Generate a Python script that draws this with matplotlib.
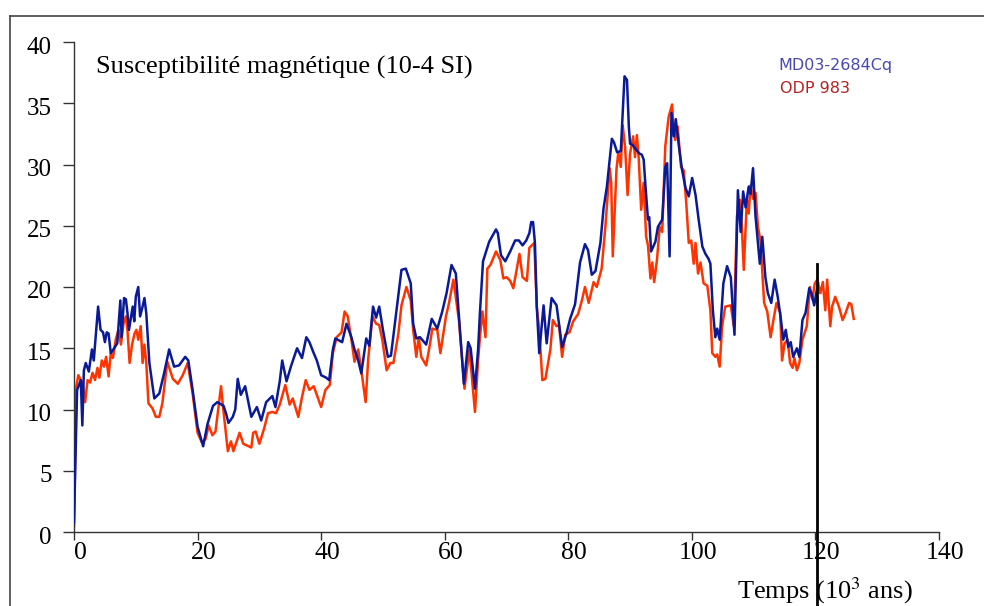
import numpy as np
import matplotlib
matplotlib.use('Agg')
import matplotlib.pyplot as plt
import matplotlib.transforms as mtransforms
from matplotlib.lines import Line2D

#------------------------------------------------------------------------------
# DATA
#------------------------------------------------------------------------------
# MD03-2684Cq
t_md = [0.0, 0.5, 1.1, 1.35, 1.6, 1.9, 2.4, 2.9, 3.2, 3.9, 4.3, 4.7, 5.0, 5.3,
        5.6, 5.95, 6.5, 7.0, 7.5, 7.7, 8.1, 8.4, 8.65, 8.9, 9.5, 9.75, 10.0,
        10.4, 10.7, 11.1, 11.4, 11.7, 11.9, 12.2, 13.0, 13.8, 14.6, 15.4, 16.2,
        17.0, 18.0, 18.5, 19.2, 20.0, 20.9, 21.6, 22.5, 23.2, 24.2, 24.6, 25.0,
        25.7, 26.1, 26.5, 27.0, 27.7, 28.7, 29.6, 30.3, 31.1, 32.1, 32.6, 33.3,
        33.7, 34.4, 35.1, 36.1, 36.9, 37.6, 38.1, 38.8, 39.3, 40.0, 40.8, 41.3,
        41.9, 42.3, 43.4, 44.1, 44.9, 45.4, 46.0, 46.5, 47.3, 47.8, 48.4, 48.9,
        49.4, 50.0, 50.8, 51.3, 52.2, 53.0, 53.7, 54.5, 54.9, 55.4, 56.0, 57.0,
        57.9, 58.8, 59.6, 60.3, 61.1, 61.8, 62.3, 63.1, 63.8, 64.2, 64.9, 65.4,
        65.7, 66.2, 67.2, 68.3, 68.6, 69.1, 69.8, 70.6, 71.4, 72.0, 72.6, 73.2,
        73.7, 74.0, 74.3, 74.6, 74.9, 75.3, 76.0, 76.5, 77.3, 78.1, 79.0, 79.7,
        80.3, 81.1, 81.9, 82.7, 83.2, 83.8, 84.4, 85.2, 85.7, 86.25, 87.05,
        87.4, 87.9, 88.5, 89.1, 89.5, 89.8, 90.0, 90.4, 90.85, 91.5, 91.9, 92.2,
        92.5, 92.9, 93.1, 93.4, 94.1, 94.5, 95.2, 95.7, 96.0, 96.4, 96.7, 97.1,
        97.4, 97.9, 98.4, 98.96, 99.5, 100.05, 100.6, 101.1, 101.7, 102.2,
        102.7, 103.0, 103.4, 103.8, 104.1, 104.5, 105.1, 105.7, 106.3, 106.9,
        107.45, 107.9, 108.3, 108.7, 109.2, 109.5, 109.9, 110.3, 111.0, 111.4,
        111.9, 112.3, 112.85, 113.4, 113.9, 114.4, 114.8, 115.2, 115.6, 116.0,
        116.4, 117.0, 117.4, 117.9, 118.4, 119.0, 119.4, 119.8, 120.1, 120.4]
v_md = [0.8, 11.6, 12.4, 8.7, 13.2, 13.8, 13.1, 14.9, 14.0, 18.4, 16.5, 16.3,
        15.5, 16.3, 16.2, 14.6, 15.0, 15.4, 18.9, 15.9, 19.1, 19.0, 17.9, 16.5,
        18.4, 17.2, 19.2, 20.0, 17.6, 18.4, 19.1, 17.85, 16.2, 13.8, 10.9, 11.3,
        13.0, 14.9, 13.5, 13.6, 14.3, 14.0, 11.6, 8.6, 7.0, 8.8, 10.3, 10.6,
        10.3, 9.7, 8.9, 9.4, 10.0, 12.5, 11.2, 11.9, 9.4, 10.2, 9.1, 10.6, 11.1,
        10.2, 12.3, 14.0, 12.3, 13.5, 15.0, 14.2, 15.9, 15.5, 14.6, 14.0, 12.8,
        12.6, 12.4, 14.9, 15.8, 15.5, 17.0, 15.9, 14.9, 14.0, 12.95, 15.8, 15.2,
        18.4, 17.5, 18.4, 16.5, 14.3, 14.4, 18.1, 21.4, 21.5, 20.3, 17.0, 15.8,
        15.9, 15.3, 17.4, 16.6, 18.0, 19.5, 21.8, 21.1, 17.6, 12.1, 15.5, 15.0,
        11.7, 14.9, 17.9, 22.1, 23.7, 24.7, 24.4, 22.6, 22.1, 22.9, 23.8, 23.8,
        23.4, 23.8, 24.4, 25.3, 25.3, 23.6, 18.4, 14.6, 18.5, 15.4, 19.1, 18.5,
        15.1, 16.2, 17.4, 18.6, 22.0, 23.5, 23.0, 21.0, 21.3, 23.6, 26.4, 28.2,
        32.1, 31.8, 31.0, 31.1, 37.2, 36.9, 33.1, 31.7, 31.6, 31.3, 30.9, 30.8,
        30.4, 28.2, 25.5, 25.7, 22.9, 23.7, 24.9, 25.5, 29.8, 30.1, 22.5, 34.2,
        32.3, 33.7, 31.5, 29.6, 28.1, 27.4, 28.9, 27.5, 25.5, 23.3, 22.7, 22.3,
        21.9, 18.1, 15.9, 16.6, 15.7, 20.3, 21.7, 20.8, 16.1, 27.9, 24.5, 27.8,
        26.5, 28.2, 27.6, 29.7, 25.8, 21.9, 24.1, 20.8, 19.5, 18.7, 20.6, 19.2,
        17.4, 15.7, 16.5, 15.1, 15.5, 14.3, 15.0, 14.3, 17.3, 17.9, 19.9, 19.4,
        18.5, 19.4, 20.3]

# ODP 983
t_odp = [0.0, 0.38, 0.7, 1.1, 1.46, 1.8, 2.2, 2.6, 3.0, 3.4, 3.8, 4.1, 4.5,
         4.85, 5.2, 5.6, 5.95, 6.3, 6.75, 7.2, 7.6, 8.0, 8.4, 8.65, 9.0, 9.4,
         9.8, 10.1, 10.4, 10.8, 11.1, 11.4, 11.7, 12.05, 12.7, 13.25, 13.8,
         14.3, 15.1, 16.0, 16.8, 17.6, 18.4, 19.2, 20.0, 20.7, 21.3, 21.8, 22.4,
         22.9, 23.8, 24.1, 24.9, 25.4, 25.8, 26.8, 27.4, 28.7, 29.0, 29.4, 30.0,
         30.8, 31.4, 32.1, 32.7, 33.3, 34.2, 34.9, 35.4, 36.3, 36.9, 37.5, 38.1,
         38.8, 40.0, 40.7, 41.4, 41.9, 42.5, 43.3, 43.8, 44.3, 44.9, 45.4, 46.0,
         46.5, 47.2, 47.6, 48.3, 48.9, 49.4, 49.9, 50.6, 51.2, 51.7, 52.5, 53.0,
         53.8, 54.5, 54.9, 55.4, 55.8, 56.2, 57.0, 57.6, 58.0, 58.8, 59.3, 60.2,
         60.7, 61.4, 62.3, 63.2, 64.0, 64.9, 65.4, 65.7, 66.1, 66.6, 66.9, 67.4,
         68.3, 69.0, 69.5, 70.0, 70.6, 71.1, 71.5, 72.1, 72.6, 73.3, 73.7, 74.5,
         74.9, 75.3, 75.8, 76.3, 77.1, 77.5, 78.1, 78.5, 79.0, 79.5, 80.2, 80.8,
         81.6, 82.2, 82.7, 83.3, 84.1, 84.6, 85.4, 86.0, 86.7, 86.95, 87.2, 87.8,
         88.1, 88.5, 88.8, 89.2, 89.6, 90.0, 90.5, 90.8, 91.1, 91.4, 91.8, 92.2,
         92.6, 92.9, 93.3, 93.6, 93.9, 94.35, 94.8, 95.2, 95.7, 96.25, 96.8,
         97.0, 97.3, 97.7, 98.25, 98.7, 99.1, 99.5, 99.9, 100.3, 100.6, 101.0,
         101.4, 101.9, 102.5, 103.0, 103.3, 103.8, 104.1, 104.5, 104.9, 105.4,
         106.3, 106.8, 107.3, 107.8, 108.1, 108.4, 108.9, 109.2, 109.5, 109.9,
         110.3, 110.7, 111.1, 111.7, 112.2, 112.75, 113.2, 113.7, 114.3, 114.6,
         115.0, 115.5, 115.9, 116.3, 116.6, 117.0, 117.4, 117.9, 118.6, 119.1,
         119.5, 119.9, 120.3, 120.8, 121.2, 121.6, 121.9, 122.4, 122.7, 123.2,
         123.8, 124.4, 124.9, 125.45, 125.8, 126.2]
v_odp = [0.5, 11.9, 12.8, 12.4, 11.9, 10.6, 12.4, 12.2, 13.0, 12.4, 13.4, 12.6,
         14.0, 13.5, 14.3, 12.7, 14.6, 14.2, 15.7, 16.5, 15.3, 17.0, 17.6, 16.5,
         13.8, 15.3, 16.2, 16.5, 15.7, 16.8, 13.8, 15.3, 13.8, 10.5, 10.1, 9.4,
         9.4, 10.5, 13.9, 12.5, 12.1, 12.8, 13.8, 11.3, 8.1, 7.3, 7.6, 8.7, 7.9,
         8.2, 11.9, 10.3, 6.6, 7.4, 6.6, 8.1, 7.2, 6.9, 8.1, 8.2, 7.2, 8.5, 9.7,
         9.8, 9.7, 10.4, 12.0, 10.4, 10.9, 9.4, 11.0, 12.4, 11.6, 11.9, 10.2,
         11.6, 12.0, 14.6, 15.9, 16.3, 18.0, 17.6, 15.7, 13.9, 14.9, 13.2, 10.6,
         14.0, 17.6, 17.0, 16.9, 15.7, 13.2, 13.8, 13.8, 16.2, 18.5, 20.0, 18.9,
         16.5, 14.3, 15.9, 14.3, 13.6, 15.3, 16.6, 16.5, 14.6, 17.6, 18.7, 20.6,
         17.3, 11.7, 14.9, 9.8, 14.0, 15.9, 18.0, 15.9, 21.5, 21.8, 22.9, 22.2,
         20.7, 20.8, 20.5, 19.9, 21.0, 22.7, 20.8, 20.5, 23.2, 23.6, 18.4, 16.5,
         12.4, 12.5, 14.9, 17.3, 16.8, 16.9, 14.3, 16.1, 16.3, 17.2, 17.8, 18.9,
         20.0, 18.7, 20.4, 20.0, 21.5, 24.9, 29.7, 28.5, 22.5, 29.6, 31.0, 29.8,
         33.2, 31.4, 27.5, 30.9, 32.3, 30.6, 32.4, 30.5, 26.3, 28.5, 24.1, 23.4,
         20.7, 22.0, 20.4, 22.2, 24.9, 24.5, 31.5, 33.9, 34.9, 33.3, 32.0, 33.1,
         29.8, 29.5, 26.8, 23.6, 23.8, 21.9, 23.6, 21.1, 22.0, 20.3, 20.1, 18.1,
         14.6, 14.3, 14.5, 13.5, 16.8, 18.4, 18.5, 16.8, 25.8, 27.1, 24.8, 21.4,
         27.1, 26.0, 28.3, 27.2, 27.7, 24.9, 23.8, 18.7, 18.0, 15.9, 17.3, 18.7,
         17.9, 14.0, 15.4, 15.7, 13.8, 13.4, 14.2, 13.2, 13.8, 15.7, 16.8, 20.0,
         19.0, 20.3, 20.6, 19.5, 20.4, 18.1, 20.6, 16.8, 18.4, 19.2, 18.4, 17.3,
         17.9, 18.7, 18.6, 17.4]

x_ticks = [0, 20, 40, 60, 80, 100, 120, 140]
y_ticks = [0, 5, 10, 15, 20, 25, 30, 35, 40]

#------------------------------------------------------------------------------
# FIGURE
#------------------------------------------------------------------------------
plt.rcParams['font.family'] = ['Liberation Serif', 'DejaVu Serif']
plt.rcParams['mathtext.fontset'] = 'stix'

fig = plt.figure(figsize=(9.84, 6.06), dpi=100)
ax = fig.add_axes([74/984, 1 - 532/606, (939 - 74)/984, (532 - 42)/606])

ax.plot(t_md, v_md, color='#0a1a96', lw=1.8, solid_joinstyle='round', zorder=3)
ax.plot(t_odp, v_odp, color='#ff3300', lw=1.8, solid_joinstyle='round', zorder=2)

# ligne verticale a 120 ka
ax.plot([120.2, 120.2], [21.9, -7], color='black', lw=2, clip_on=False, zorder=4)

ax.set_xlim(0, 140)
ax.set_ylim(0, 40)
ax.set_xticks(x_ticks)
ax.set_yticks(y_ticks)
ax.spines['top'].set_visible(False)
ax.spines['right'].set_visible(False)
for s in ['left', 'bottom']:
    ax.spines[s].set_color('#333333')
    ax.spines[s].set_linewidth(1.0)
ax.tick_params(axis='y', direction='out', length=8, width=1, pad=8,
               labelsize=18, colors='#333333', labelcolor='black')
ax.tick_params(axis='x', direction='out', length=6, width=1, pad=1.5,
               labelsize=18.5, colors='#333333', labelcolor='black')

# decalage des etiquettes comme sur l'original
dx = mtransforms.ScaledTranslation(0.06, 0, fig.dpi_scale_trans)
dy = mtransforms.ScaledTranslation(0, -0.03, fig.dpi_scale_trans)
for lab in ax.get_xticklabels():
    lab.set_transform(lab.get_transform() + dx)
for lab in ax.get_yticklabels():
    lab.set_transform(lab.get_transform() + dy)

ax.text(3.57, 37.9, 'Susceptibilité magnétique (10-4 SI)', fontsize=19,
        va='center', ha='left')
ax.text(114.0, 38.1, 'MD03-2684Cq', fontsize=11.5, color='#4848b0',
        family='DejaVu Sans', va='center', ha='left')
ax.text(114.3, 36.2, 'ODP 983', fontsize=11.5, color='#b22222',
        family='DejaVu Sans', va='center', ha='left')

fig.text(825/984, 1 - 591/606, 'Temps (10$^3$ ans)', fontsize=19,
         ha='center', va='center')

# cadre
fig.add_artist(Line2D([10/984, 10/984], [0, 1 - 16/606], color='#444444', lw=1.2))
fig.add_artist(Line2D([10/984, 1], [1 - 16/606, 1 - 16/606], color='#444444', lw=1.2))

fig.savefig('out.png', dpi=100)
